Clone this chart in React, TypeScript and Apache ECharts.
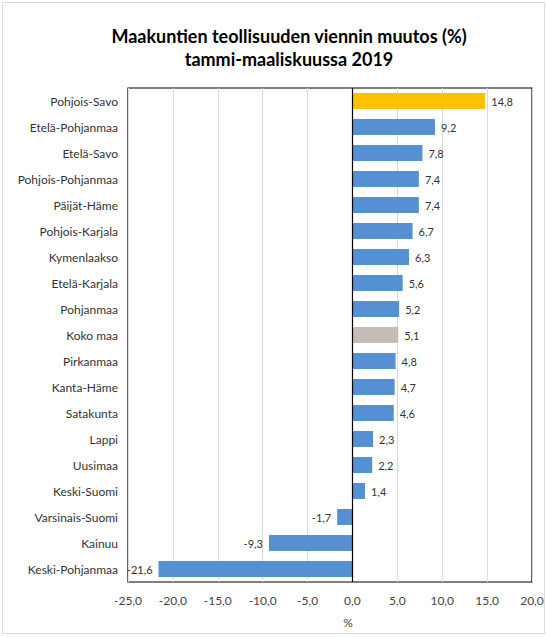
import React, { useEffect, useRef } from "react";
import * as echarts from "echarts";

const categories = [
  "Pohjois-Savo", "Etelä-Pohjanmaa", "Etelä-Savo", "Pohjois-Pohjanmaa", "Päijät-Häme",
  "Pohjois-Karjala", "Kymenlaakso", "Etelä-Karjala", "Pohjanmaa", "Koko maa",
  "Pirkanmaa", "Kanta-Häme", "Satakunta", "Lappi", "Uusimaa", "Keski-Suomi",
  "Varsinais-Suomi", "Kainuu", "Keski-Pohjanmaa",
];
const values = [14.8, 9.2, 7.8, 7.4, 7.4, 6.7, 6.3, 5.6, 5.2, 5.1, 4.8, 4.7, 4.6, 2.3, 2.2, 1.4, -1.7, -9.3, -21.6];
const highlight: Record<string, string> = { "Pohjois-Savo": "#FFC000", "Koko maa": "#C4BCB8" };
const titleLines = ["Maakuntien teollisuuden viennin muutos (%)", "tammi-maaliskuussa 2019"];
const axisName = "%";

const FONT = "Lato";
const fmt = (v: number) => v.toFixed(1).replace(".", ",");

export default function App() {
  const ref = useRef<HTMLDivElement>(null);
  useEffect(() => {
    const chart = echarts.init(ref.current!, undefined, { renderer: "svg" });
    chart.setOption({
      animation: false,
      backgroundColor: "#fff",
      title: {
        text: titleLines.join("\n"),
        top: 19,
        left: 284,
        textAlign: "center",
        textStyle: { fontFamily: FONT, fontWeight: "bold", fontSize: 18, color: "#000", lineHeight: 23 },
      },
      grid: { left: 128, right: 15, top: 88, bottom: 55, show: true, borderColor: "#000", borderWidth: 1.2 },
      xAxis: {
        type: "value",
        min: -25,
        max: 20,
        interval: 5,
        axisLine: { show: false },
        axisTick: { show: false },
        splitLine: { lineStyle: { color: "#D9D9D9" } },
        axisLabel: { formatter: (v: number) => fmt(v), fontFamily: FONT, fontSize: 12, color: "#444", margin: 12 },
      },
      yAxis: {
        type: "category",
        data: categories,
        inverse: true,
        axisLine: { show: false },
        axisTick: { show: false },
        axisLabel: { fontFamily: FONT, fontSize: 12, color: "#333", margin: 10 },
      },
      graphic: [
        { type: "rect", shape: { x: 2.5, y: 2.5, width: 542, height: 631 }, style: { fill: "none", stroke: "#D9D9D9", lineWidth: 1 } },
        { type: "text", x: 348, y: 622, style: { text: axisName, fontFamily: FONT, fontSize: 12, fill: "#444", align: "center", verticalAlign: "middle" } },
      ],
      series: [
        {
          type: "bar",
          barWidth: 16,
          data: values.map((v, i) => ({
            value: v,
            itemStyle: { color: highlight[categories[i]] || "#5591D2" },
            label: { position: v < 0 ? "left" : "right" },
          })),
          label: {
            show: true,
            formatter: (p: any) => fmt(p.value),
            fontFamily: FONT,
            fontSize: 11,
            color: "#333",
            distance: 6,
          },
          markLine: {
            silent: true,
            symbol: "none",
            label: { show: false },
            lineStyle: { color: "#000", width: 1.2, type: "solid" },
            data: [{ xAxis: 0 }],
          },
        },
      ],
    });
    return () => chart.dispose();
  }, []);
  return <div ref={ref} style={{ position: "absolute", left: 0, top: 0, width: 547, height: 637 }} />;
}
